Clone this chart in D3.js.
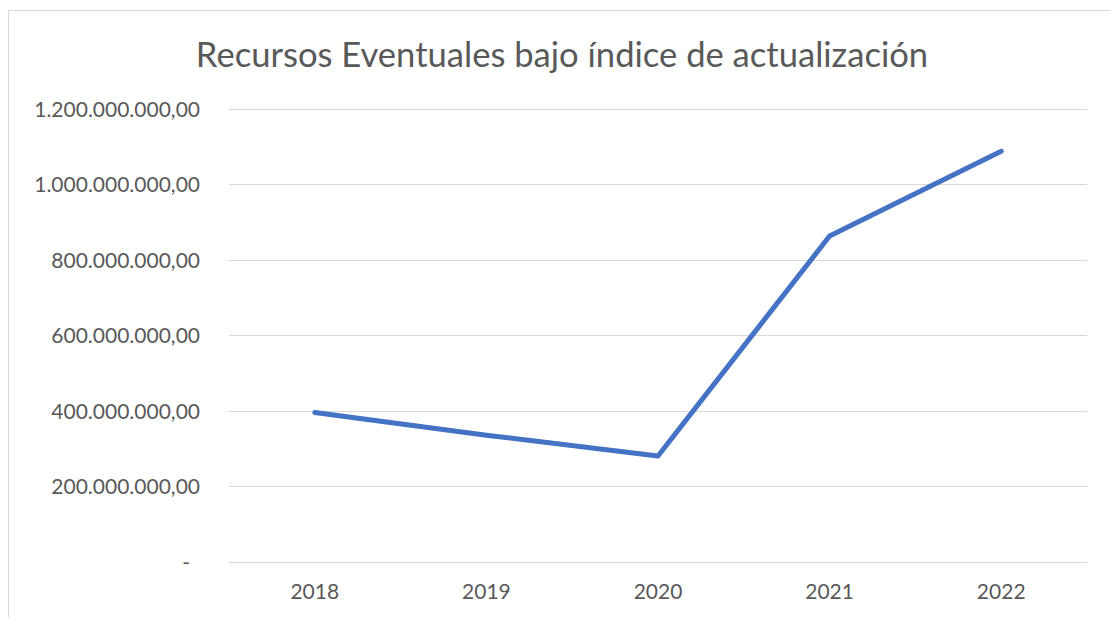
<!DOCTYPE html>
<html>
<head>
<meta charset="utf-8">
<script src="https://cdn.jsdelivr.net/npm/d3@7"></script>
<style>
  html, body { margin: 0; padding: 0; background: #fff; }
  svg { display: block; }
  text { font-family: Lato, "Open Sans", sans-serif; fill: #595959; }
</style>
</head>
<body>
<svg id="chart" width="1111" height="617"></svg>
<script>
// Series
const years = ["2018", "2019", "2020", "2021", "2022"];
const values = [395000000, 335000000, 280000000, 863000000, 1088000000];
const yTicks = [0, 200000000, 400000000, 600000000, 800000000, 1000000000, 1200000000];
const titleText = "Recursos Eventuales bajo índice de actualización";

const W = 1111, H = 617;
const plot = { left: 229, right: 1087, top: 109, bottom: 561.5 };

const svg = d3.select("#chart");

// Chart frame (left and top edges visible)
svg.append("path")
  .attr("d", `M8.5,${H} L8.5,10.5 L${W},10.5`)
  .attr("fill", "none")
  .attr("stroke", "#d9d9d9")
  .attr("stroke-width", 1);

const x = d3.scaleBand().domain(years).range([plot.left, plot.right]);
const y = d3.scaleLinear().domain([0, 1200000000]).range([plot.bottom, plot.top]);

// Spanish number format: 1.200.000.000,00
const esLocale = d3.formatLocale({ decimal: ",", thousands: ".", grouping: [3], currency: ["", ""] });
const fmt = esLocale.format(",.2f");

// Gridlines
svg.append("g")
  .selectAll("line")
  .data(yTicks)
  .join("line")
  .attr("x1", plot.left)
  .attr("x2", plot.right)
  .attr("y1", d => Math.round(y(d)) + 0.5)
  .attr("y2", d => Math.round(y(d)) + 0.5)
  .attr("stroke", "#d9d9d9")
  .attr("stroke-width", 1);

// Y axis labels
const yAxis = d3.axisLeft(y)
  .tickValues(yTicks)
  .tickSize(0)
  .tickPadding(29)
  .tickFormat(d => d === 0 ? "-" : fmt(d));
const gy = svg.append("g").attr("transform", `translate(${plot.left},0)`).call(yAxis);
gy.select(".domain").remove();
gy.selectAll("text")
  .attr("font-size", 21)
  .attr("fill", "#595959")
  .attr("font-family", "Lato, 'Open Sans', sans-serif")
  .attr("dy", "0.36em")
  .attr("dx", d => d === 0 ? -10 : 0);

// X axis labels
const xAxis = d3.axisBottom(x).tickSize(0).tickPadding(23);
const gx = svg.append("g").attr("transform", `translate(0,${plot.bottom})`).call(xAxis);
gx.select(".domain").remove();
gx.selectAll("text")
  .attr("font-size", 21)
  .attr("fill", "#595959")
  .attr("font-family", "Lato, 'Open Sans', sans-serif");

// Line
const line = d3.line()
  .x((d, i) => x(years[i]) + x.bandwidth() / 2)
  .y(d => y(d));
svg.append("path")
  .datum(values)
  .attr("d", line)
  .attr("fill", "none")
  .attr("stroke", "#4472c4")
  .attr("stroke-width", 5)
  .attr("stroke-linecap", "round")
  .attr("stroke-linejoin", "round");

// Title
svg.append("text")
  .attr("x", 562)
  .attr("y", 67)
  .attr("text-anchor", "middle")
  .attr("font-size", 34.6)
  .text(titleText);
</script>
</body>
</html>
